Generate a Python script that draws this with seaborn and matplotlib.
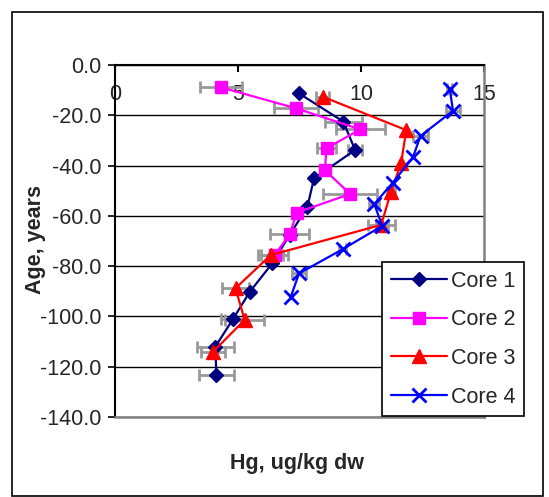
import matplotlib
matplotlib.use("Agg")
import matplotlib.pyplot as plt
from matplotlib.patches import Rectangle
import seaborn as sns
import pandas as pd

# Hg concentration (ug/kg dw) against sediment age (years) for four cores
core1_age = [-11.3, -22.5, -33.8, -45.1, -56.4, -67.6, -78.9, -90.2, -101.0, -112.0, -123.3]
core1_hg = [7.48, 9.28, 9.76, 8.09, 7.82, 7.10, 6.39, 5.48, 4.80, 4.08, 4.12]
core1_err = [0.0, 0.75, 0.3, 0.0, 0.0, 0.0, 0.0, 0.0, 0.5, 0.75, 0.7]

core2_age = [-8.9, -17.2, -25.6, -33.1, -41.8, -51.3, -58.7, -67.4, -75.6]
core2_hg = [4.31, 7.35, 9.97, 8.60, 8.53, 9.56, 7.39, 7.10, 6.49]
core2_err = [0.85, 0.9, 1.0, 0.4, 0.0, 1.1, 0.0, 0.78, 0.55]

core3_age = [-12.6, -25.9, -39.1, -50.4, -63.6, -75.6, -88.8, -101.4, -114.0]
core3_hg = [8.44, 11.84, 11.63, 11.22, 10.82, 6.33, 4.90, 5.27, 3.99]
core3_err = [0.25, 0.0, 0.0, 0.15, 0.55, 0.5, 0.55, 0.8, 0.5]

core4_age = [-9.7, -18.2, -28.2, -36.7, -46.8, -55.3, -64.0, -73.3, -82.9, -92.4]
core4_hg = [13.61, 13.74, 12.42, 12.11, 11.29, 10.54, 10.86, 9.25, 7.48, 7.14]
core4_err = [0.1, 0.3, 0.3, 0.0, 0.0, 0.2, 0.25, 0.15, 0.28, 0.0]

series_names = ["Core 1", "Core 2", "Core 3", "Core 4"]
x_ticks = [0, 5, 10, 15]
y_ticks = [0, -20, -40, -60, -80, -100, -120, -140]

sns.set_theme(style="white")
plt.rcParams["font.family"] = ["Liberation Sans", "DejaVu Sans"]
FS = 15.5

fig = plt.figure(figsize=(5.49, 4.97), dpi=100)
ax = fig.add_axes([115 / 549, 1 - 417 / 497, (484 - 115) / 549, (417 - 65) / 497])

# outer chart frame
fig.patches.append(Rectangle((12 / 549, 1 / 497), (543 - 12) / 549, (484) / 497,
                             transform=fig.transFigure, fill=False,
                             edgecolor="black", linewidth=1.2, zorder=0))

styles = {
    "Core 1": dict(color="#000080", marker="D", ms=7, mew=1),
    "Core 2": dict(color="#FF00FF", marker="s", ms=9, mew=1),
    "Core 3": dict(color="#FF0000", marker="^", ms=10, mew=1),
    "Core 4": dict(color="#0000FF", marker="x", ms=10, mew=2),
}

data = {
    "Core 1": (core1_hg, core1_age, core1_err),
    "Core 2": (core2_hg, core2_age, core2_err),
    "Core 3": (core3_hg, core3_age, core3_err),
    "Core 4": (core4_hg, core4_age, core4_err),
}

# grey horizontal error bars underneath the series
for name in series_names:
    hg, age, err = data[name]
    keep = [i for i, e in enumerate(err) if e > 0]
    ax.errorbar([hg[i] for i in keep], [age[i] for i in keep],
                xerr=[err[i] for i in keep], fmt="none", ecolor="#999999",
                elinewidth=2, capsize=4, capthick=2, zorder=2)

for name in series_names:
    hg, age, _ = data[name]
    df = pd.DataFrame({"hg": hg, "age": age})
    st = styles[name]
    sns.lineplot(data=df, x="hg", y="age", sort=False, estimator=None, ax=ax,
                 color=st["color"], marker=st["marker"], markersize=st["ms"],
                 markeredgewidth=st["mew"], markeredgecolor=st["color"],
                 linewidth=1.6, label=name, zorder=3)

ax.set_xlim(0, 15)
ax.set_ylim(-140, 0)
ax.set_xticks(x_ticks)
ax.set_xticklabels([str(v) for v in x_ticks])
ax.set_yticks(y_ticks)
ax.set_yticklabels([f"{v:.1f}" for v in y_ticks])

# horizontal axis sits at age 0 with its labels hanging inside the plot
ax.xaxis.tick_top()
ax.tick_params(axis="x", direction="in", length=5, width=1.5, color="black",
               pad=-14, labelsize=FS, top=True, bottom=False)
for lbl in ax.get_xticklabels():
    lbl.set_verticalalignment("top")
ax.tick_params(axis="y", direction="out", length=5, width=1.2, color="black",
               pad=5, labelsize=FS, left=True)

ax.grid(axis="y", color="black", linewidth=1)
ax.grid(axis="x", visible=False)
ax.set_axisbelow(True)

ax.spines["top"].set_color("black")
ax.spines["top"].set_linewidth(1.5)
ax.spines["left"].set_color("black")
ax.spines["left"].set_linewidth(1.5)
ax.spines["right"].set_color("#808080")
ax.spines["right"].set_linewidth(1.8)
ax.spines["bottom"].set_color("#808080")
ax.spines["bottom"].set_linewidth(1.8)

ax.set_xlabel("")
ax.set_ylabel("")
fig.text(297 / 549, 1 - 463 / 497, "Hg, ug/kg dw", ha="center", va="center",
         fontsize=FS, fontweight="bold")
fig.text(35 / 549, 1 - 240 / 497, "Age, years", ha="center", va="center",
         rotation=90, fontsize=FS, fontweight="bold")

leg = ax.legend(loc="upper left", bbox_to_anchor=(382 / 549, 1 - 262 / 497),
                bbox_transform=fig.transFigure, borderaxespad=0, fontsize=FS,
                handlelength=2.6, labelspacing=0.82, handletextpad=0.2,
                borderpad=0.4, fancybox=False, frameon=True)
leg.get_frame().set_edgecolor("black")
leg.get_frame().set_linewidth(1.2)
leg.get_frame().set_facecolor("white")
leg.get_frame().set_alpha(1)

fig.savefig("out.png", dpi=100)
